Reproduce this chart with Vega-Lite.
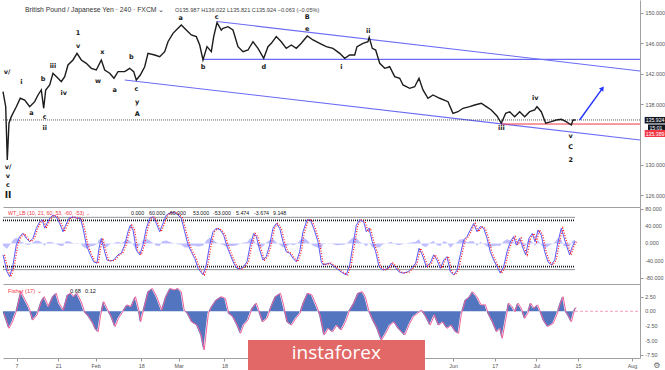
{
  "$schema": "https://vega.github.io/schema/vega-lite/v6.json",
  "background": "white",
  "padding": 0,
  "bounds": "flush",
  "spacing": 0,
  "config": {
    "view": {"stroke": null},
    "font": "Liberation Sans",
    "axis": {"labelFont": "Liberation Sans", "labelFontSize": 5.4, "labelColor": "#555", "tickColor": "#999", "domainColor": "#a0a0a0", "tickSize": 3, "labelPadding": 2, "grid": false, "title": null, "labelOverlap": false}
  },
  "resolve": {"scale": {"x": "independent", "y": "independent"}},
  "vconcat": [
    {
      "width": 637,
      "height": 207,
      "layer": [
        {
          "data": {"values": [
            {"t1": 48.2, "t2": 149.93, "p1": 148.88, "p2": 142.37},
            {"t1": 44.83, "t2": 149.93, "p1": 143.9, "p2": 143.9},
            {"t1": 26.0, "t2": 149.93, "p1": 141.18, "p2": 133.29}
          ]},
          "mark": {"type": "rule", "color": "#6b6bf5", "strokeWidth": 1.1},
          "encoding": {
            "x": {"field": "t1", "type": "quantitative", "scale": {"domain": [-3.27, 149.93], "nice": false, "zero": false}, "axis": {"labels": false, "ticks": false, "domain": true}},
            "x2": {"field": "t2"},
            "y": {"field": "p1", "type": "quantitative", "scale": {"domain": [124.47, 151.71], "nice": false, "zero": false}, "axis": {"orient": "right", "values": [126, 128, 130, 132, 138, 140, 142, 144, 146, 148, 150], "format": ".3f"}},
            "y2": {"field": "p2"}
          }
        },
        {
          "data": {"values": [{"t1": 116.57, "t2": 149.93, "p": 135.389}]},
          "mark": {"type": "rule", "color": "#f23645", "strokeWidth": 1},
          "encoding": {"x": {"field": "t1", "type": "quantitative"}, "x2": {"field": "t2"}, "y": {"field": "p", "type": "quantitative"}}
        },
        {
          "data": {"values": [{"t1": -3.27, "t2": 149.93, "p": 135.924}]},
          "mark": {"type": "rule", "color": "#333", "strokeWidth": 0.8, "strokeDash": [1, 1]},
          "encoding": {"x": {"field": "t1", "type": "quantitative"}, "x2": {"field": "t2"}, "y": {"field": "p", "type": "quantitative"}}
        },
        {
          "data": {"values": [
            {"t": -3.27, "p": 139.64}, {"t": -2.62, "p": 137.67}, {"t": -2.24, "p": 130.66}, {"t": -1.83, "p": 135.5}, {"t": -1.27, "p": 136.36},
            {"t": -0.07, "p": 137.67}, {"t": 0.89, "p": 138.78}, {"t": 1.95, "p": 138.55}, {"t": 3.15, "p": 137.67}, {"t": 4.35, "p": 138.33},
            {"t": 5.15, "p": 139.21}, {"t": 5.94, "p": 139.87}, {"t": 6.52, "p": 137.46}, {"t": 7.0, "p": 139.87}, {"t": 7.96, "p": 140.53},
            {"t": 8.75, "p": 142.07}, {"t": 9.96, "p": 141.41}, {"t": 10.75, "p": 140.96}, {"t": 11.57, "p": 141.62}, {"t": 12.36, "p": 143.16},
            {"t": 13.56, "p": 143.82}, {"t": 14.53, "p": 144.69}, {"t": 15.56, "p": 143.82}, {"t": 16.76, "p": 143.38}, {"t": 17.97, "p": 142.72},
            {"t": 19.17, "p": 142.5}, {"t": 20.37, "p": 143.82}, {"t": 21.19, "p": 142.5}, {"t": 22.39, "p": 142.07}, {"t": 23.42, "p": 141.41},
            {"t": 24.39, "p": 142.28}, {"t": 26.0, "p": 142.28}, {"t": 27.2, "p": 142.72}, {"t": 28.16, "p": 142.28}, {"t": 28.79, "p": 141.18},
            {"t": 29.75, "p": 141.84}, {"t": 30.81, "p": 142.93}, {"t": 31.6, "p": 144.69}, {"t": 33.21, "p": 144.47}, {"t": 34.42, "p": 144.25},
            {"t": 35.62, "p": 144.91}, {"t": 36.41, "p": 146.22}, {"t": 37.61, "p": 147.32}, {"t": 38.82, "p": 147.99}, {"t": 39.61, "p": 148.42},
            {"t": 40.81, "p": 147.76}, {"t": 42.02, "p": 147.11}, {"t": 43.22, "p": 146.89}, {"t": 44.04, "p": 145.79}, {"t": 44.83, "p": 143.82},
            {"t": 45.79, "p": 145.57}, {"t": 46.83, "p": 144.91}, {"t": 47.4, "p": 146.89}, {"t": 48.2, "p": 148.72}, {"t": 49.23, "p": 147.76},
            {"t": 49.64, "p": 147.99}, {"t": 50.84, "p": 148.2}, {"t": 52.04, "p": 147.76}, {"t": 53.25, "p": 145.57}, {"t": 54.45, "p": 144.91},
            {"t": 55.65, "p": 145.13}, {"t": 56.85, "p": 146.22}, {"t": 58.06, "p": 145.35}, {"t": 59.43, "p": 144.04}, {"t": 60.46, "p": 145.57},
            {"t": 61.26, "p": 146.01}, {"t": 62.46, "p": 146.89}, {"t": 63.66, "p": 146.22}, {"t": 64.86, "p": 145.35}, {"t": 66.07, "p": 145.79},
            {"t": 67.27, "p": 145.35}, {"t": 68.47, "p": 146.01}, {"t": 69.91, "p": 146.97}, {"t": 71.29, "p": 146.45}, {"t": 72.9, "p": 146.01},
            {"t": 74.48, "p": 145.57}, {"t": 76.09, "p": 145.35}, {"t": 77.71, "p": 144.69}, {"t": 78.91, "p": 144.04}, {"t": 80.11, "p": 144.47},
            {"t": 81.31, "p": 144.47}, {"t": 81.87, "p": 145.57}, {"t": 83.31, "p": 146.01}, {"t": 84.51, "p": 146.22}, {"t": 84.8, "p": 146.8},
            {"t": 85.55, "p": 145.35}, {"t": 86.36, "p": 145.13}, {"t": 87.33, "p": 143.38}, {"t": 88.53, "p": 142.72}, {"t": 89.73, "p": 142.93},
            {"t": 90.93, "p": 141.62}, {"t": 92.14, "p": 141.41}, {"t": 92.93, "p": 140.53}, {"t": 94.54, "p": 140.09}, {"t": 95.74, "p": 140.3},
            {"t": 96.78, "p": 141.41}, {"t": 97.74, "p": 139.87}, {"t": 98.94, "p": 138.78}, {"t": 100.14, "p": 139.21}, {"t": 101.76, "p": 138.78},
            {"t": 103.75, "p": 138.33}, {"t": 104.95, "p": 136.8}, {"t": 106.15, "p": 137.01}, {"t": 107.36, "p": 137.46}, {"t": 108.97, "p": 137.67},
            {"t": 110.17, "p": 137.89}, {"t": 111.76, "p": 138.12}, {"t": 112.96, "p": 137.67}, {"t": 114.16, "p": 137.24}, {"t": 115.54, "p": 136.45},
            {"t": 116.57, "p": 135.49}, {"t": 117.63, "p": 136.8}, {"t": 118.59, "p": 137.01}, {"t": 119.79, "p": 136.36}, {"t": 120.99, "p": 137.01},
            {"t": 122.2, "p": 136.36}, {"t": 123.4, "p": 137.01}, {"t": 124.6, "p": 137.24}, {"t": 125.16, "p": 137.67}, {"t": 126.19, "p": 137.01},
            {"t": 127.25, "p": 135.49}, {"t": 128.6, "p": 135.7}, {"t": 129.8, "p": 135.92}, {"t": 131.0, "p": 136.01}, {"t": 132.18, "p": 135.7},
            {"t": 133.4, "p": 135.26}, {"t": 133.82, "p": 135.92}, {"t": 134.46, "p": 135.924}
          ]},
          "mark": {"type": "line", "color": "#1c1c1c", "strokeWidth": 1.4},
          "encoding": {"x": {"field": "t", "type": "quantitative"}, "y": {"field": "p", "type": "quantitative"}}
        },
        {
          "data": {"values": [{"t": 135.4, "p": 135.92}, {"t": 140.9, "p": 140.09}]},
          "mark": {"type": "line", "color": "#2233ff", "strokeWidth": 1.4},
          "encoding": {"x": {"field": "t", "type": "quantitative"}, "y": {"field": "p", "type": "quantitative"}}
        },
        {
          "data": {"values": [{"t": 140.9, "p": 140.09}]},
          "mark": {"type": "point", "shape": "triangle-up", "filled": true, "color": "#2233ff", "size": 28, "angle": 36, "opacity": 1},
          "encoding": {"x": {"field": "t", "type": "quantitative"}, "y": {"field": "p", "type": "quantitative"}}
        },
        {
          "data": {"values": [
            {"t": -2.3, "p": 142.2, "l": "v/"}, {"t": 1.13, "p": 140.96, "l": "i"}, {"t": 3.54, "p": 136.8, "l": "a"}, {"t": 6.76, "p": 136.36, "l": "c"},
            {"t": 6.76, "p": 134.83, "l": "ii"}, {"t": 6.35, "p": 141.28, "l": "b"}, {"t": 8.75, "p": 143.07, "l": "iii"}, {"t": 11.33, "p": 139.43, "l": "iv"},
            {"t": 14.77, "p": 147.33, "l": "1"}, {"t": 14.77, "p": 145.66, "l": "v"}, {"t": 20.61, "p": 144.91, "l": "x"}, {"t": 19.58, "p": 141.05, "l": "w"},
            {"t": 23.59, "p": 139.87, "l": "a"}, {"t": 27.59, "p": 144.25, "l": "b"}, {"t": 28.79, "p": 139.96, "l": "c"}, {"t": 28.96, "p": 138.33, "l": "y"},
            {"t": 29.03, "p": 136.67, "l": "A"}, {"t": 39.47, "p": 149.3, "l": "a"}, {"t": 48.12, "p": 149.45, "l": "c"}, {"t": 44.83, "p": 142.86, "l": "b"},
            {"t": 59.43, "p": 142.86, "l": "d"}, {"t": 69.91, "p": 149.51, "l": "B"}, {"t": 69.91, "p": 147.86, "l": "e"}, {"t": 78.09, "p": 142.93, "l": "i"},
            {"t": 84.59, "p": 147.67, "l": "ii"}, {"t": 116.57, "p": 134.83, "l": "iii"}, {"t": 124.75, "p": 138.78, "l": "iv"}, {"t": 133.26, "p": 133.82, "l": "v"},
            {"t": 133.26, "p": 132.33, "l": "C"}, {"t": 133.26, "p": 130.66, "l": "2"}, {"t": -2.07, "p": 129.78, "l": "v/"}, {"t": -2.07, "p": 128.59, "l": "v"},
            {"t": -2.07, "p": 127.37, "l": "c"}, {"t": -2.07, "p": 126.05, "l": "II"}
          ]},
          "mark": {"type": "text", "font": "DejaVu Sans", "fontWeight": "bold", "color": "#1a1a1a", "baseline": "middle", "align": "center"},
          "encoding": {
            "x": {"field": "t", "type": "quantitative"},
            "y": {"field": "p", "type": "quantitative"},
            "text": {"field": "l"},
            "size": {"condition": {"test": "datum.l == 'II'", "value": 9}, "value": 6.5}
          }
        },
        {
          "data": {"values": [{"t": 2.02, "p": 150.39, "l": "British Pound / Japanese Yen · 240 · FXCM ⌄"}]},
          "mark": {"type": "text", "align": "left", "baseline": "middle", "color": "#333", "fontSize": 6.8},
          "encoding": {"x": {"field": "t", "type": "quantitative"}, "y": {"field": "p", "type": "quantitative"}, "text": {"field": "l"}}
        },
        {
          "data": {"values": [{"t": 38.1, "p": 150.39, "l": "O135.987  H136.022  L135.821  C135.924  −0.063 (−0.05%)"}]},
          "mark": {"type": "text", "align": "left", "baseline": "middle", "color": "#444", "fontSize": 5.6},
          "encoding": {"x": {"field": "t", "type": "quantitative"}, "y": {"field": "p", "type": "quantitative"}, "text": {"field": "l"}}
        },
        {
          "data": {"values": [
            {"t1": 151.06, "t2": 156.7, "p1": 136.32, "p2": 135.46, "k": "last"},
            {"t1": 151.85, "t2": 156.7, "p1": 135.33, "p2": 134.47, "k": "timer"},
            {"t1": 151.06, "t2": 156.7, "p1": 134.6, "p2": 133.68, "k": "level"}
          ]},
          "mark": {"type": "rect", "clip": false},
          "encoding": {
            "x": {"field": "t1", "type": "quantitative"}, "x2": {"field": "t2"},
            "y": {"field": "p1", "type": "quantitative"}, "y2": {"field": "p2"},
            "color": {"field": "k", "type": "nominal", "scale": {"domain": ["last", "timer", "level"], "range": ["#131722", "#131722", "#f23645"]}, "legend": null}
          }
        },
        {
          "data": {"values": [
            {"t": 151.3, "p": 135.89, "l": "135.924"},
            {"t": 152.2, "p": 134.9, "l": "15:01"},
            {"t": 151.3, "p": 134.14, "l": "135.389"}
          ]},
          "mark": {"type": "text", "align": "left", "baseline": "middle", "color": "white", "fontSize": 5.2},
          "encoding": {"x": {"field": "t", "type": "quantitative"}, "y": {"field": "p", "type": "quantitative"}, "text": {"field": "l"}}
        }
      ]
    },
    {
      "width": 637,
      "height": 77,
      "layer": [
        {
          "data": {"values": [{"t1": -3.27, "t2": 134.3, "v": 60, "k": "r"}, {"t1": -3.27, "t2": 134.3, "v": -60, "k": "b"}]},
          "mark": {"type": "rule", "strokeWidth": 0.8, "opacity": 0.6},
          "encoding": {
            "x": {"field": "t1", "type": "quantitative", "scale": {"domain": [-3.27, 149.93], "nice": false, "zero": false}, "axis": {"labels": false, "ticks": false, "domain": true}},
            "x2": {"field": "t2"},
            "y": {"field": "v", "type": "quantitative", "scale": {"domain": [-92.9, 83.7], "nice": false, "zero": false}, "axis": {"orient": "right", "values": [80, 40, 0, -40, -80], "labels": false}},
            "color": {"field": "k", "type": "nominal", "scale": {"domain": ["r", "b"], "range": ["#ff5050", "#5050ff"]}, "legend": null}
          }
        },
        {
          "data": {"name": "wt"},
          "mark": {"type": "area", "color": "#b4b4ff", "opacity": 0.85},
          "encoding": {
            "x": {"field": "t", "type": "quantitative"},
            "y": {"field": "d", "type": "quantitative"},
            "y2": {"field": "z"}
          }
        },
        {
          "data": {"values": [{"t1": -3.27, "t2": 134.3, "v": 53, "k": "r"}, {"t1": -3.27, "t2": 134.3, "v": -53, "k": "b"}]},
          "mark": {"type": "rule", "strokeWidth": 1.8, "strokeDash": [1, 1]},
          "encoding": {"x": {"field": "t1", "type": "quantitative"}, "x2": {"field": "t2"}, "y": {"field": "v", "type": "quantitative"},
            "color": {"field": "k", "type": "nominal", "scale": {"domain": ["r", "b"], "range": ["#ff3030", "#3a3aff"]}, "legend": null}}
        },
        {
          "data": {"name": "wt"},
          "mark": {"type": "line", "color": "#5a5aff", "strokeWidth": 1},
          "encoding": {"x": {"field": "t", "type": "quantitative"}, "y": {"field": "v", "type": "quantitative"}}
        },
        {
          "data": {"name": "wt"},
          "mark": {"type": "line", "color": "#ff2020", "strokeWidth": 1.3, "strokeDash": [1, 1.6], "xOffset": 1.5},
          "encoding": {"x": {"field": "t", "type": "quantitative"}, "y": {"field": "v", "type": "quantitative"}}
        },
        {
          "data": {"values": [
            {"t": -2.07, "v": 69.3, "l": "WT_LB (10, 21, 60, 53, -60, -53) ⌄", "c": "n"},
            {"t": 27.51, "v": 69.3, "l": "0.000", "c": "g"},
            {"t": 31.84, "v": 69.3, "l": "60.000", "c": "r"},
            {"t": 36.41, "v": 69.3, "l": "-60.000", "c": "b"},
            {"t": 42.42, "v": 69.3, "l": "53.000", "c": "r"},
            {"t": 47.23, "v": 69.3, "l": "-53.000", "c": "b"},
            {"t": 52.76, "v": 69.3, "l": "5.474", "c": "b"},
            {"t": 57.1, "v": 69.3, "l": "-3.674", "c": "r"},
            {"t": 61.66, "v": 69.3, "l": "9.148", "c": "b"}
          ]},
          "mark": {"type": "text", "align": "left", "baseline": "middle", "fontSize": 5.3},
          "encoding": {
            "x": {"field": "t", "type": "quantitative"},
            "y": {"field": "v", "type": "quantitative"},
            "text": {"field": "l"},
            "color": {"field": "c", "type": "nominal", "scale": {"domain": ["n", "g", "r", "b"], "range": ["#444", "#888", "#ff3b3b", "#4a4aff"]}, "legend": null}
          }
        },
        {
          "data": {"values": [
            {"t": 151.2, "v": 80, "l": "80.000"}, {"t": 151.2, "v": 40, "l": "40.000"}, {"t": 151.2, "v": 0, "l": "0.000"},
            {"t": 151.2, "v": -40, "l": "-40.000"}, {"t": 151.2, "v": -80, "l": "-80.000"}
          ]},
          "mark": {"type": "text", "align": "left", "baseline": "middle", "fontSize": 5.4, "color": "#555", "clip": false},
          "encoding": {"x": {"field": "t", "type": "quantitative"}, "y": {"field": "v", "type": "quantitative"}, "text": {"field": "l"}}
        }
      ]
    },
    {
      "width": 637,
      "height": 74,
      "layer": [
        {
          "data": {"values": [{"t1": 134.3, "t2": 149.93, "f": 0}]},
          "mark": {"type": "rule", "color": "#f7a0b8", "strokeWidth": 1, "strokeDash": [3, 2]},
          "encoding": {
            "x": {"field": "t1", "type": "quantitative", "scale": {"domain": [-3.27, 149.93], "nice": false, "zero": false},
              "axis": {"values": [0, 10, 19, 30, 39, 50, 105, 115, 125, 135, 148],
                "labelExpr": "datum.value == 0 ? '7' : datum.value == 10 ? '21' : datum.value == 19 ? 'Feb' : datum.value == 30 ? '18' : datum.value == 39 ? 'Mar' : datum.value == 50 ? '18' : datum.value == 105 ? 'Jun' : datum.value == 115 ? '17' : datum.value == 125 ? 'Jul' : datum.value == 135 ? '15' : 'Aug'"}},
            "x2": {"field": "t2"},
            "y": {"field": "f", "type": "quantitative", "scale": {"domain": [-7.98, 4.67], "nice": false, "zero": false}, "axis": {"orient": "right", "values": [2.5, 0, -2.5, -5, -7.5], "labels": false}}
          }
        },
        {
          "data": {"name": "fisher"},
          "mark": {"type": "area", "color": "#4a6ebc", "opacity": 0.95},
          "encoding": {
            "x": {"field": "t", "type": "quantitative"},
            "y": {"field": "f", "type": "quantitative"},
            "y2": {"field": "z"}
          }
        },
        {
          "data": {"name": "fisher"},
          "mark": {"type": "line", "color": "#f0609a", "strokeWidth": 1, "xOffset": 1},
          "encoding": {"x": {"field": "t", "type": "quantitative"}, "y": {"field": "f", "type": "quantitative"}}
        },
        {
          "data": {"values": [
            {"t": -2.07, "f": 3.52, "l": "Fisher (17) ⌄", "c": "n"},
            {"t": 12.84, "f": 3.52, "l": "0.68", "c": "b"},
            {"t": 16.45, "f": 3.52, "l": "0.12", "c": "p"}
          ]},
          "mark": {"type": "text", "align": "left", "baseline": "middle", "fontSize": 5.6},
          "encoding": {
            "x": {"field": "t", "type": "quantitative"},
            "y": {"field": "f", "type": "quantitative"},
            "text": {"field": "l"},
            "color": {"field": "c", "type": "nominal", "scale": {"domain": ["n", "b", "p"], "range": ["#444", "#4a6ad0", "#f0609a"]}, "legend": null}
          }
        },
        {
          "data": {"values": [
            {"t": 151.2, "f": 2.5, "l": "2.50"}, {"t": 151.2, "f": 0, "l": "0.00"}, {"t": 151.2, "f": -2.5, "l": "-2.50"},
            {"t": 151.2, "f": -5, "l": "-5.00"}, {"t": 151.2, "f": -7.5, "l": "-7.50"}
          ]},
          "mark": {"type": "text", "align": "left", "baseline": "middle", "fontSize": 5.4, "color": "#555", "clip": false},
          "encoding": {"x": {"field": "t", "type": "quantitative"}, "y": {"field": "f", "type": "quantitative"}, "text": {"field": "l"}}
        },
        {
          "data": {"values": [{"t1": 55.65, "t2": 98.22, "f1": -4.9, "f2": -10.6}]},
          "mark": {"type": "rect", "color": "#e26868", "clip": false},
          "encoding": {"x": {"field": "t1", "type": "quantitative"}, "x2": {"field": "t2"}, "y": {"field": "f1", "type": "quantitative"}, "y2": {"field": "f2"}}
        },
        {
          "data": {"values": [{"t": 76.9, "f": -7.2, "l": "instaforex"}]},
          "mark": {"type": "text", "color": "white", "font": "Open Sans", "fontSize": 19, "baseline": "middle", "align": "center"},
          "encoding": {"x": {"field": "t", "type": "quantitative"}, "y": {"field": "f", "type": "quantitative"}, "text": {"field": "l"}}
        },
        {
          "data": {"values": [{"t": 154.0, "f": -9.35, "l": "⚙"}]},
          "mark": {"type": "text", "color": "#666", "font": "DejaVu Sans", "fontSize": 8, "baseline": "middle", "align": "center"},
          "encoding": {"x": {"field": "t", "type": "quantitative"}, "y": {"field": "f", "type": "quantitative"}, "text": {"field": "l"}}
        }
      ]
    }
  ],
  "datasets": {
    "wt": [
      {"t": -3.27, "v": -26, "d": -5, "z": 0}, {"t": -2.31, "v": -65, "d": -12, "z": 0}, {"t": -1.66, "v": -76, "d": -4, "z": 0}, {"t": -0.87, "v": -49, "d": 8, "z": 0},
      {"t": -0.07, "v": -3, "d": 14, "z": 0}, {"t": 0.75, "v": 16, "d": 6, "z": 0}, {"t": 1.54, "v": 23, "d": 2, "z": 0}, {"t": 2.33, "v": 12, "d": -3, "z": 0},
      {"t": 3.15, "v": 4, "d": -3, "z": 0}, {"t": 3.94, "v": 12, "d": 3, "z": 0}, {"t": 4.74, "v": 35, "d": 7, "z": 0}, {"t": 5.56, "v": 50, "d": 5, "z": 0},
      {"t": 6.18, "v": 54, "d": 1, "z": 0}, {"t": 6.76, "v": 35, "d": -6, "z": 0}, {"t": 7.31, "v": 46, "d": 3, "z": 0}, {"t": 7.96, "v": 58, "d": 4, "z": 0},
      {"t": 8.75, "v": 65, "d": 2, "z": 0}, {"t": 9.55, "v": 61, "d": -1, "z": 0}, {"t": 10.37, "v": 46, "d": -5, "z": 0}, {"t": 11.16, "v": 27, "d": -6, "z": 0},
      {"t": 11.81, "v": 42, "d": 5, "z": 0}, {"t": 12.6, "v": 58, "d": 5, "z": 0}, {"t": 13.56, "v": 61, "d": 1, "z": 0}, {"t": 14.36, "v": 58, "d": -1, "z": 0},
      {"t": 15.32, "v": 58, "d": 0, "z": 0}, {"t": 15.97, "v": 35, "d": -7, "z": 0}, {"t": 16.76, "v": -3, "d": -12, "z": 0}, {"t": 17.72, "v": -26, "d": -7, "z": 0},
      {"t": 18.54, "v": -42, "d": -5, "z": 0}, {"t": 19.34, "v": -45, "d": -1, "z": 0}, {"t": 19.82, "v": -11, "d": 10, "z": 0}, {"t": 20.37, "v": 12, "d": 7, "z": 0},
      {"t": 20.95, "v": -11, "d": -7, "z": 0}, {"t": 21.74, "v": -38, "d": -8, "z": 0}, {"t": 22.54, "v": -40, "d": -1, "z": 0}, {"t": 23.35, "v": -38, "d": 1, "z": 0},
      {"t": 24.39, "v": -26, "d": 4, "z": 0}, {"t": 25.18, "v": -22, "d": 1, "z": 0}, {"t": 26.0, "v": -3, "d": 6, "z": 0}, {"t": 26.79, "v": 27, "d": 9, "z": 0},
      {"t": 27.34, "v": 42, "d": 5, "z": 0}, {"t": 28.0, "v": 31, "d": -3, "z": 0}, {"t": 28.79, "v": -15, "d": -14, "z": 0}, {"t": 29.61, "v": -26, "d": -3, "z": 0},
      {"t": 30.4, "v": -3, "d": 7, "z": 0}, {"t": 31.19, "v": 35, "d": 11, "z": 0}, {"t": 32.01, "v": 58, "d": 7, "z": 0}, {"t": 32.8, "v": 61, "d": 1, "z": 0},
      {"t": 33.6, "v": 46, "d": -5, "z": 0}, {"t": 34.42, "v": 27, "d": -6, "z": 0}, {"t": 35.04, "v": 42, "d": 5, "z": 0}, {"t": 36.0, "v": 65, "d": 7, "z": 0},
      {"t": 37.2, "v": 72, "d": 2, "z": 0}, {"t": 38.41, "v": 69, "d": -1, "z": 0}, {"t": 39.61, "v": 58, "d": -3, "z": 0}, {"t": 40.43, "v": 27, "d": -9, "z": 0},
      {"t": 41.22, "v": -3, "d": -9, "z": 0}, {"t": 42.02, "v": -19, "d": -5, "z": 0}, {"t": 42.83, "v": -34, "d": -5, "z": 0}, {"t": 43.63, "v": -57, "d": -7, "z": 0},
      {"t": 44.83, "v": -72, "d": -5, "z": 0}, {"t": 45.62, "v": -49, "d": 7, "z": 0}, {"t": 46.44, "v": -3, "d": 14, "z": 0}, {"t": 47.23, "v": 27, "d": 9, "z": 0},
      {"t": 48.03, "v": 35, "d": 2, "z": 0}, {"t": 48.99, "v": 31, "d": -1, "z": 0}, {"t": 49.81, "v": 19, "d": -4, "z": 0}, {"t": 50.6, "v": -7, "d": -8, "z": 0},
      {"t": 51.4, "v": -26, "d": -6, "z": 0}, {"t": 52.21, "v": -45, "d": -6, "z": 0}, {"t": 53.01, "v": -57, "d": -4, "z": 0}, {"t": 53.8, "v": -58, "d": 0, "z": 0},
      {"t": 54.62, "v": -53, "d": 2, "z": 0}, {"t": 55.41, "v": -42, "d": 3, "z": 0}, {"t": 56.21, "v": -3, "d": 12, "z": 0}, {"t": 57.02, "v": 23, "d": 8, "z": 0},
      {"t": 57.65, "v": 16, "d": -2, "z": 0}, {"t": 58.47, "v": -15, "d": -9, "z": 0}, {"t": 59.26, "v": -38, "d": -7, "z": 0}, {"t": 60.05, "v": -30, "d": 2, "z": 0},
      {"t": 60.87, "v": -3, "d": 8, "z": 0}, {"t": 61.66, "v": 35, "d": 11, "z": 0}, {"t": 62.46, "v": 46, "d": 3, "z": 0}, {"t": 63.28, "v": 35, "d": -3, "z": 0},
      {"t": 64.07, "v": 4, "d": -9, "z": 0}, {"t": 64.86, "v": -19, "d": -7, "z": 0}, {"t": 65.68, "v": -22, "d": -1, "z": 0}, {"t": 66.47, "v": -34, "d": -4, "z": 0},
      {"t": 67.27, "v": -42, "d": -2, "z": 0}, {"t": 68.08, "v": -19, "d": 7, "z": 0}, {"t": 68.88, "v": 27, "d": 14, "z": 0}, {"t": 69.84, "v": 54, "d": 8, "z": 0},
      {"t": 70.64, "v": 54, "d": 0, "z": 0}, {"t": 71.45, "v": 35, "d": -6, "z": 0}, {"t": 72.49, "v": 4, "d": -9, "z": 0}, {"t": 73.28, "v": -42, "d": -14, "z": 0},
      {"t": 73.69, "v": -49, "d": -2, "z": 0}, {"t": 75.3, "v": -45, "d": 1, "z": 0}, {"t": 76.89, "v": -57, "d": -4, "z": 0}, {"t": 78.5, "v": -68, "d": -3, "z": 0},
      {"t": 79.29, "v": -72, "d": -1, "z": 0}, {"t": 80.11, "v": -49, "d": 7, "z": 0}, {"t": 80.9, "v": -3, "d": 14, "z": 0}, {"t": 81.7, "v": 42, "d": 13, "z": 0},
      {"t": 82.51, "v": 54, "d": 4, "z": 0}, {"t": 83.48, "v": 50, "d": -1, "z": 0}, {"t": 84.1, "v": 27, "d": -7, "z": 0}, {"t": 84.75, "v": 35, "d": 2, "z": 0},
      {"t": 85.55, "v": 4, "d": -9, "z": 0}, {"t": 86.36, "v": -19, "d": -7, "z": 0}, {"t": 87.16, "v": -53, "d": -10, "z": 0}, {"t": 88.12, "v": -61, "d": -2, "z": 0},
      {"t": 89.32, "v": -57, "d": 1, "z": 0}, {"t": 90.12, "v": -45, "d": 4, "z": 0}, {"t": 90.93, "v": -53, "d": -2, "z": 0}, {"t": 91.97, "v": -65, "d": -4, "z": 0},
      {"t": 92.93, "v": -68, "d": -1, "z": 0}, {"t": 94.13, "v": -65, "d": 1, "z": 0}, {"t": 94.93, "v": -57, "d": 2, "z": 0}, {"t": 95.98, "v": -45, "d": 4, "z": 0},
      {"t": 96.78, "v": -11, "d": 10, "z": 0}, {"t": 97.57, "v": -26, "d": -5, "z": 0}, {"t": 98.53, "v": -53, "d": -8, "z": 0}, {"t": 99.5, "v": -45, "d": 2, "z": 0},
      {"t": 100.31, "v": -26, "d": 6, "z": 0}, {"t": 101.11, "v": -38, "d": -4, "z": 0}, {"t": 101.9, "v": -57, "d": -6, "z": 0}, {"t": 102.72, "v": -38, "d": 6, "z": 0},
      {"t": 103.51, "v": -30, "d": 2, "z": 0}, {"t": 104.31, "v": -65, "d": -10, "z": 0}, {"t": 105.12, "v": -72, "d": -2, "z": 0}, {"t": 105.92, "v": -61, "d": 3, "z": 0},
      {"t": 106.71, "v": -26, "d": 10, "z": 0}, {"t": 107.53, "v": 8, "d": 10, "z": 0}, {"t": 108.32, "v": 16, "d": 2, "z": 0}, {"t": 109.12, "v": 31, "d": 5, "z": 0},
      {"t": 109.93, "v": 46, "d": 5, "z": 0}, {"t": 110.73, "v": 27, "d": -6, "z": 0}, {"t": 111.52, "v": 39, "d": 4, "z": 0}, {"t": 112.34, "v": 35, "d": -1, "z": 0},
      {"t": 113.13, "v": 12, "d": -7, "z": 0}, {"t": 113.93, "v": -19, "d": -9, "z": 0}, {"t": 114.74, "v": -38, "d": -6, "z": 0}, {"t": 115.54, "v": -53, "d": -5, "z": 0},
      {"t": 116.33, "v": -68, "d": -5, "z": 0}, {"t": 117.15, "v": -53, "d": 5, "z": 0}, {"t": 117.94, "v": -19, "d": 10, "z": 0}, {"t": 118.74, "v": 4, "d": 7, "z": 0},
      {"t": 119.55, "v": 16, "d": 4, "z": 0}, {"t": 120.18, "v": -3, "d": -6, "z": 0}, {"t": 120.99, "v": 12, "d": 5, "z": 0}, {"t": 121.79, "v": -11, "d": -7, "z": 0},
      {"t": 122.44, "v": -26, "d": -5, "z": 0}, {"t": 123.23, "v": 12, "d": 11, "z": 0}, {"t": 124.03, "v": 23, "d": 3, "z": 0}, {"t": 124.68, "v": 4, "d": -6, "z": 0},
      {"t": 125.4, "v": 31, "d": 8, "z": 0}, {"t": 126.19, "v": 19, "d": -4, "z": 0}, {"t": 127.01, "v": -19, "d": -11, "z": 0}, {"t": 127.8, "v": -42, "d": -7, "z": 0},
      {"t": 128.6, "v": -49, "d": -2, "z": 0}, {"t": 129.41, "v": -38, "d": 3, "z": 0}, {"t": 130.21, "v": 4, "d": 12, "z": 0}, {"t": 131.0, "v": 35, "d": 9, "z": 0},
      {"t": 131.58, "v": 16, "d": -6, "z": 0}, {"t": 132.18, "v": -3, "d": -6, "z": 0}, {"t": 133.0, "v": -26, "d": -7, "z": 0}, {"t": 133.65, "v": -7, "d": 6, "z": 0},
      {"t": 134.3, "v": 5, "d": 9, "z": 0}
    ],
    "fisher": [
      {"t": -3.27, "f": -0.34, "z": 0}, {"t": -2.04, "f": -2.9, "z": 0}, {"t": -1.23, "f": -1.8, "z": 0}, {"t": -0.22, "f": 0.2, "z": 0}, {"t": 0.82, "f": 3.35, "z": 0},
      {"t": 1.83, "f": 1.9, "z": 0}, {"t": 2.84, "f": 0.5, "z": 0}, {"t": 3.66, "f": -1.5, "z": 0}, {"t": 4.69, "f": -0.6, "z": 0}, {"t": 5.7, "f": 1.65, "z": 0},
      {"t": 6.42, "f": 2.5, "z": 0}, {"t": 7.43, "f": 0.8, "z": 0}, {"t": 8.47, "f": 2.5, "z": 0}, {"t": 9.28, "f": 3.1, "z": 0}, {"t": 9.98, "f": 1.4, "z": 0},
      {"t": 11.02, "f": 0.2, "z": 0}, {"t": 12.03, "f": 2.8, "z": 0}, {"t": 12.84, "f": 3.1, "z": 0}, {"t": 13.56, "f": 2.5, "z": 0}, {"t": 14.26, "f": 3.1, "z": 0},
      {"t": 15.3, "f": 1.65, "z": 0}, {"t": 16.11, "f": -0.07, "z": 0}, {"t": 17.12, "f": -0.9, "z": 0}, {"t": 18.16, "f": -2.05, "z": 0}, {"t": 18.66, "f": -2.9, "z": 0},
      {"t": 19.36, "f": -3.5, "z": 0}, {"t": 19.99, "f": -0.6, "z": 0}, {"t": 20.71, "f": 1.65, "z": 0}, {"t": 21.52, "f": 0.5, "z": 0}, {"t": 22.54, "f": -0.9, "z": 0},
      {"t": 23.45, "f": -2.6, "z": 0}, {"t": 24.27, "f": -1.2, "z": 0}, {"t": 25.28, "f": -0.07, "z": 0}, {"t": 26.31, "f": 1.1, "z": 0}, {"t": 27.32, "f": 0.8, "z": 0},
      {"t": 28.35, "f": 2.5, "z": 0}, {"t": 29.17, "f": 0.2, "z": 0}, {"t": 29.58, "f": -1.8, "z": 0}, {"t": 30.4, "f": 0.5, "z": 0}, {"t": 31.41, "f": 3.35, "z": 0},
      {"t": 32.42, "f": 3.9, "z": 0}, {"t": 33.45, "f": 2.5, "z": 0}, {"t": 34.68, "f": 0.2, "z": 0}, {"t": 35.69, "f": 2.5, "z": 0}, {"t": 36.7, "f": 3.9, "z": 0},
      {"t": 37.73, "f": 3.65, "z": 0}, {"t": 38.55, "f": 3.9, "z": 0}, {"t": 39.37, "f": 3.35, "z": 0}, {"t": 40.07, "f": 0.2, "z": 0}, {"t": 40.88, "f": -0.34, "z": 0},
      {"t": 41.92, "f": -1.8, "z": 0}, {"t": 43.15, "f": -2.35, "z": 0}, {"t": 44.16, "f": -4.05, "z": 0}, {"t": 44.88, "f": -6.6, "z": 0}, {"t": 45.29, "f": -4.05, "z": 0},
      {"t": 45.89, "f": -0.34, "z": 0}, {"t": 46.7, "f": 0.8, "z": 0}, {"t": 47.74, "f": 1.9, "z": 0}, {"t": 48.94, "f": 2.5, "z": 0}, {"t": 49.97, "f": 2.2, "z": 0},
      {"t": 50.79, "f": -0.34, "z": 0}, {"t": 51.8, "f": -0.9, "z": 0}, {"t": 52.84, "f": -2.35, "z": 0}, {"t": 53.63, "f": -3.75, "z": 0}, {"t": 54.35, "f": -2.35, "z": 0},
      {"t": 55.39, "f": -1.5, "z": 0}, {"t": 56.4, "f": 0.5, "z": 0}, {"t": 57.41, "f": 1.4, "z": 0}, {"t": 58.13, "f": -0.07, "z": 0}, {"t": 58.95, "f": -1.8, "z": 0},
      {"t": 59.96, "f": -1.2, "z": 0}, {"t": 60.99, "f": 0.8, "z": 0}, {"t": 62.0, "f": 2.5, "z": 0}, {"t": 63.23, "f": 3.1, "z": 0}, {"t": 64.05, "f": 0.8, "z": 0},
      {"t": 64.86, "f": -1.8, "z": 0}, {"t": 65.87, "f": -2.35, "z": 0}, {"t": 66.91, "f": -1.2, "z": 0}, {"t": 67.92, "f": -0.34, "z": 0}, {"t": 68.73, "f": 1.4, "z": 0},
      {"t": 69.77, "f": 3.1, "z": 0}, {"t": 70.78, "f": 2.8, "z": 0}, {"t": 71.79, "f": 1.1, "z": 0}, {"t": 72.73, "f": -0.6, "z": 0}, {"t": 73.74, "f": -4.05, "z": 0},
      {"t": 74.75, "f": -2.9, "z": 0}, {"t": 75.78, "f": -3.5, "z": 0}, {"t": 76.79, "f": -2.35, "z": 0}, {"t": 77.83, "f": -3.2, "z": 0}, {"t": 78.84, "f": -1.8, "z": 0},
      {"t": 79.85, "f": 0.2, "z": 0}, {"t": 80.88, "f": 1.4, "z": 0}, {"t": 81.89, "f": 3.1, "z": 0}, {"t": 82.92, "f": 3.35, "z": 0}, {"t": 83.62, "f": 2.5, "z": 0},
      {"t": 84.44, "f": 0.2, "z": 0}, {"t": 85.47, "f": -1.5, "z": 0}, {"t": 86.48, "f": -2.9, "z": 0}, {"t": 87.52, "f": -4.9, "z": 0}, {"t": 88.53, "f": -3.75, "z": 0},
      {"t": 89.54, "f": -2.35, "z": 0}, {"t": 90.57, "f": -1.8, "z": 0}, {"t": 91.58, "f": -2.9, "z": 0}, {"t": 93.12, "f": -4.05, "z": 0}, {"t": 94.13, "f": -2.35, "z": 0},
      {"t": 95.17, "f": -0.9, "z": 0}, {"t": 96.18, "f": -0.34, "z": 0}, {"t": 97.19, "f": 0.2, "z": 0}, {"t": 98.22, "f": -0.9, "z": 0}, {"t": 99.23, "f": -2.35, "z": 0},
      {"t": 100.26, "f": -0.6, "z": 0}, {"t": 101.27, "f": -2.35, "z": 0}, {"t": 102.28, "f": -1.8, "z": 0}, {"t": 103.32, "f": -2.9, "z": 0}, {"t": 104.33, "f": -2.35, "z": 0},
      {"t": 105.36, "f": -3.5, "z": 0}, {"t": 106.06, "f": -3.75, "z": 0}, {"t": 106.69, "f": -0.6, "z": 0}, {"t": 107.7, "f": 1.9, "z": 0}, {"t": 108.73, "f": 2.5, "z": 0},
      {"t": 109.43, "f": 3.35, "z": 0}, {"t": 110.46, "f": 2.5, "z": 0}, {"t": 111.47, "f": 1.1, "z": 0}, {"t": 112.51, "f": 1.1, "z": 0}, {"t": 113.2, "f": -0.34, "z": 0},
      {"t": 114.24, "f": -1.8, "z": 0}, {"t": 115.25, "f": -3.5, "z": 0}, {"t": 116.07, "f": -2.9, "z": 0}, {"t": 116.57, "f": -4.6, "z": 0}, {"t": 117.29, "f": -1.8, "z": 0},
      {"t": 118.11, "f": 1.4, "z": 0}, {"t": 118.93, "f": 0.8, "z": 0}, {"t": 119.62, "f": -0.07, "z": 0}, {"t": 120.35, "f": 1.4, "z": 0}, {"t": 121.16, "f": 0.5, "z": 0},
      {"t": 121.98, "f": -1.2, "z": 0}, {"t": 122.7, "f": -0.34, "z": 0}, {"t": 123.4, "f": 1.4, "z": 0}, {"t": 124.22, "f": 0.5, "z": 0}, {"t": 125.04, "f": 1.1, "z": 0},
      {"t": 125.76, "f": -0.07, "z": 0}, {"t": 126.48, "f": -1.5, "z": 0}, {"t": 127.49, "f": -2.6, "z": 0}, {"t": 128.82, "f": -2.05, "z": 0}, {"t": 129.82, "f": -0.34, "z": 0},
      {"t": 130.55, "f": 1.4, "z": 0}, {"t": 131.17, "f": 2.5, "z": 0}, {"t": 131.87, "f": -0.07, "z": 0}, {"t": 132.59, "f": -0.9, "z": 0}, {"t": 133.19, "f": -1.8, "z": 0},
      {"t": 133.91, "f": 0.2, "z": 0}, {"t": 134.3, "f": 0.68, "z": 0}
    ]
  }
}
